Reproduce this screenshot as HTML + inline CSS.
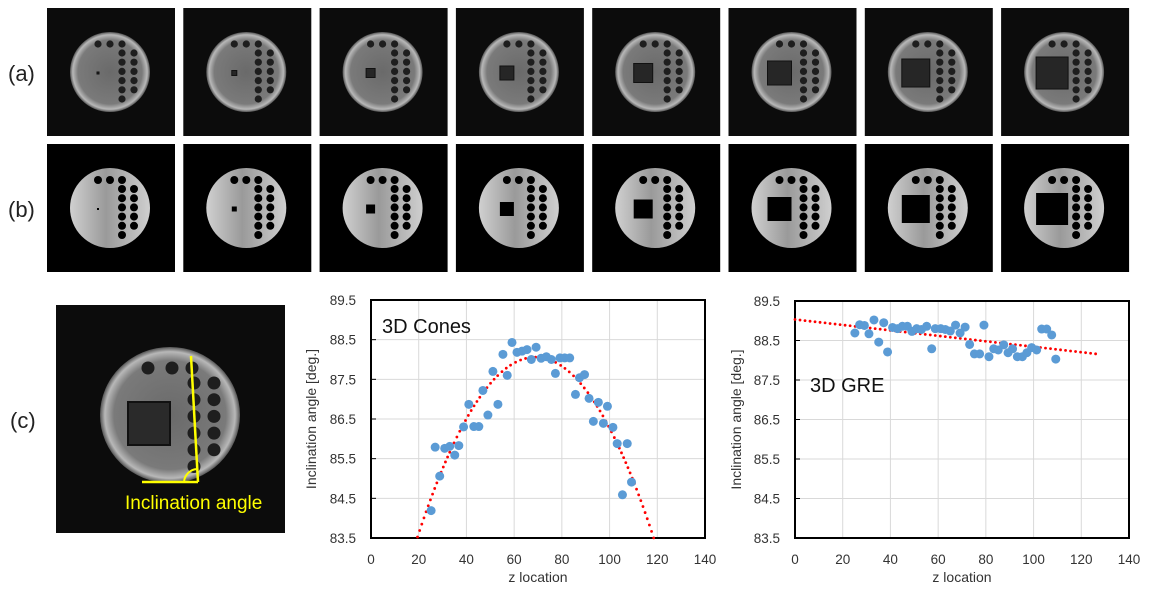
<!DOCTYPE html>
<html><head><meta charset="utf-8">
<style>
html,body{margin:0;padding:0;background:#fff;}
svg{display:block;font-family:"Liberation Sans","DejaVu Sans",sans-serif;}
</style></head>
<body>
<svg id="fig" width="1150" height="590" viewBox="0 0 1150 590" xmlns="http://www.w3.org/2000/svg">
<defs>
<radialGradient id="gA" cx="50%" cy="50%" r="50%">
<stop offset="0%" stop-color="#6a6a6a"/><stop offset="80%" stop-color="#7a7a7a"/><stop offset="93%" stop-color="#b8b8b8"/><stop offset="100%" stop-color="#555"/>
</radialGradient>
<linearGradient id="gB" x1="0" y1="0" x2="1" y2="0">
<stop offset="0%" stop-color="#d0d0d0"/><stop offset="45%" stop-color="#9a9a9a"/><stop offset="100%" stop-color="#cfcfcf"/>
</linearGradient>
</defs>
<g id="images"></g>
<g id="chart1"></g>
<g id="chart2"></g>
</svg>
<script>
// ---- chart data ----
const conesZ = [25.2,26.9,28.8,30.9,33.0,35.1,36.8,38.8,41.0,43.1,45.2,46.9,49.0,51.1,53.2,55.3,57.1,59.1,61.2,63.3,65.4,67.2,69.2,71.3,73.5,75.6,77.3,79.2,81.2,83.3,85.7,87.4,89.5,91.4,93.2,95.3,97.4,99.1,101.4,103.2,105.4,107.4,109.2];
const conesAngle = [84.19,85.79,85.06,85.76,85.81,85.59,85.83,86.30,86.87,86.31,86.31,87.22,86.60,87.70,86.87,88.13,87.60,88.43,88.18,88.21,88.25,88.00,88.31,88.03,88.07,88.00,87.65,88.04,88.04,88.04,87.12,87.54,87.62,87.02,86.44,86.92,86.39,86.82,86.29,85.88,84.59,85.88,84.91];
const greZ = [25.1,27.1,29.1,31.0,33.1,35.1,37.2,38.8,40.9,43.0,45.0,47.1,49.0,51.0,53.0,55.2,57.3,58.8,61.1,63.0,65.1,67.3,69.2,71.3,73.2,75.2,77.4,79.2,81.3,83.3,85.2,87.5,89.3,91.2,93.2,95.3,97.2,99.2,101.3,103.4,105.5,107.6,109.3];
const greAngle = [88.69,88.90,88.88,88.67,89.02,88.46,88.95,88.21,88.83,88.80,88.86,88.86,88.73,88.80,88.78,88.86,88.29,88.80,88.80,88.78,88.74,88.89,88.69,88.84,88.40,88.16,88.16,88.89,88.09,88.29,88.26,88.39,88.19,88.29,88.09,88.09,88.19,88.32,88.26,88.79,88.79,88.64,88.03];
const xTicks = [0,20,40,60,80,100,120,140];
const yTicks = [83.5,84.5,85.5,86.5,87.5,88.5,89.5];
const squareSizes = [2,5,9,14,19,24,28,32];

const NS="http://www.w3.org/2000/svg";
function mk(tag,attrs,parent,text){const e=document.createElementNS(NS,tag);for(const k in attrs)e.setAttribute(k,attrs[k]);if(text!==undefined)e.textContent=text;parent.appendChild(e);return e;}

// ---- images ----
const imgs=document.getElementById('images');
function phantom(g,x0,y0,sq,type){
  const cx=x0+63, cy=y0+64, r=40;
  mk('circle',{cx:cx,cy:cy,r:r,fill:type==='a'?'url(#gA)':'url(#gB)'},g);
  const hf = type==='a' ? '#1e1e1e' : '#000';
  const hr = type==='a' ? 3.6 : 4;
  [51,63,75].forEach(hx=>mk('circle',{cx:x0+hx,cy:y0+36,r:hr,fill:hf},g));
  for(let i=0;i<6;i++) mk('circle',{cx:x0+75,cy:y0+45+i*9.2,r:hr,fill:hf},g);
  for(let i=0;i<5;i++) mk('circle',{cx:x0+87,cy:y0+45+i*9.2,r:hr,fill:hf},g);
  if(sq>0) mk('rect',{x:x0+51-sq/2,y:y0+65-sq/2,width:sq,height:sq,fill:type==='a'?'#262626':'#000',stroke:type==='a'?'#111':'none','stroke-width':1},g);
}
for(let i=0;i<8;i++){
  const x0=47+i*136.3;
  const ga=mk('g',{},imgs);
  
  
  mk('rect',{x:x0,y:8,width:128,height:128,fill:'#0c0c0c'},ga);
  phantom(ga,x0,8,squareSizes[i],'a');
  const gb=mk('g',{},imgs);
  
  
  mk('rect',{x:x0,y:144,width:128,height:128,fill:'#000'},gb);
  phantom(gb,x0,144,squareSizes[i],'b');
}
const la=mk('text',{x:8,y:81,'font-size':22,fill:'#222'},imgs,'(a)');  
const lb=mk('text',{x:8,y:217,'font-size':22,fill:'#222'},imgs,'(b)');  
const lc=mk('text',{x:10,y:428,'font-size':22,fill:'#222'},imgs,'(c)');  
// big image (c)
const gc=mk('g',{},imgs);


(function(){
  mk('rect',{x:56,y:305,width:229,height:228,fill:'#0c0c0c'},gc);
  mk('ellipse',{cx:170,cy:415,rx:70,ry:68,fill:'url(#gA)'},gc);
  mk('rect',{x:128,y:402,width:42,height:43,fill:'#2a2a2a',stroke:'#111','stroke-width':2},gc);
  [148,172,192].forEach(hx=>mk('circle',{cx:hx,cy:368,r:6.5,fill:'#1e1e1e'},gc));
  for(let i=0;i<6;i++) mk('circle',{cx:194,cy:383+i*16.7,r:6.5,fill:'#1e1e1e'},gc);
  for(let i=0;i<5;i++) mk('circle',{cx:214,cy:383+i*16.7,r:6.5,fill:'#1e1e1e'},gc);
  mk('line',{x1:191,y1:356,x2:198,y2:482,stroke:'#ffff00','stroke-width':2.5},gc);
  mk('line',{x1:142,y1:482,x2:198,y2:482,stroke:'#ffff00','stroke-width':2.5},gc);
  mk('path',{d:'M184 482 A14 14 0 0 1 197 469',fill:'none',stroke:'#ffff00','stroke-width':2},gc);
  const t=mk('text',{x:125,y:509,'font-size':19,fill:'#ffff00'},gc,'Inclination angle');
  
  
})();

// ---- charts ----
function chart(gid,L,R,T,B,xs,ys,fit,title,tx,ty,yTitleX){
  const g=document.getElementById(gid);
  
  
  const X=v=>L+(v-xTicks[0])/(xTicks[xTicks.length-1]-xTicks[0])*(R-L);
  const Y=v=>B-(v-yTicks[0])/(yTicks[yTicks.length-1]-yTicks[0])*(B-T);
  xTicks.forEach(v=>{
    if(v>0&&v<140){const gl=mk('line',{x1:X(v),y1:T,x2:X(v),y2:B,stroke:'#d9d9d9','stroke-width':1},g);
    }
    const tl=mk('text',{x:X(v),y:B+26,'font-size':13.5,fill:'#333','text-anchor':'middle'},g,String(v));
    
  });
  yTicks.forEach(v=>{
    if(v>yTicks[0]&&v<yTicks[yTicks.length-1]){const gl=mk('line',{x1:L,y1:Y(v),x2:R,y2:Y(v),stroke:'#d9d9d9','stroke-width':1},g);
    
    mk('line',{x1:L,y1:Y(v),x2:L+5,y2:Y(v),stroke:'#000','stroke-width':1},g);}
    const tl=mk('text',{x:L-15,y:Y(v)+5,'font-size':13.5,fill:'#333','text-anchor':'end'},g,v.toFixed(1));
    
  });
  const fr=mk('rect',{x:L,y:T,width:R-L,height:B-T,fill:'none',stroke:'#000','stroke-width':2},g);
  
  const tg=mk('g',{},g);
  
  
  let last=null;
  for(let x=fit.x0;x<=fit.x1;x+=0.3){
    const y=fit.f(x); if(y<yTicks[0]||y>yTicks[yTicks.length-1]) continue;
    if(last){const dx=X(x)-last[0],dy=Y(y)-last[1]; if(Math.hypot(dx,dy)<5) continue;}
    last=[X(x),Y(y)];
    mk('circle',{cx:X(x),cy:Y(y),r:1.4,fill:'#ff0000'},tg);
  }
  xs.forEach((v,i)=>{
    const c=mk('circle',{cx:X(v),cy:Y(ys[i]),r:4.5,fill:'#5b9bd5'},g);
    
    
  });
  const tt=mk('text',{x:tx,y:ty,'font-size':20,fill:'#111'},g,title);
  
  const xt=mk('text',{x:(L+R)/2,y:B+44,'font-size':14,fill:'#333','text-anchor':'middle'},g,'z location');
  
  const yt=mk('text',{x:yTitleX,y:(T+B)/2,'font-size':14,fill:'#333','text-anchor':'middle',transform:`rotate(-90 ${yTitleX} ${(T+B)/2})`},g,'Inclination angle [deg.]');
  
}
function polyfit(xs,ys,deg){
  const n=deg+1;const A=[];for(let i=0;i<n;i++){A.push(new Array(n+1).fill(0));}
  xs.forEach((x,k)=>{for(let i=0;i<n;i++){for(let j=0;j<n;j++)A[i][j]+=Math.pow(x,i+j);A[i][n]+=ys[k]*Math.pow(x,i);}});
  for(let i=0;i<n;i++){let p=i;for(let r=i+1;r<n;r++)if(Math.abs(A[r][i])>Math.abs(A[p][i]))p=r;[A[i],A[p]]=[A[p],A[i]];
    for(let r=0;r<n;r++){if(r===i)continue;const f=A[r][i]/A[i][i];for(let c=i;c<=n;c++)A[r][c]-=f*A[i][c];}}
  const co=[];for(let i=0;i<n;i++)co.push(A[i][n]/A[i][i]);
  return x=>co.reduce((s,c,i)=>s+c*Math.pow(x,i),0);
}
chart('chart1',371,705,300,538,conesZ,conesAngle,{x0:15,x1:125,f:polyfit(conesZ,conesAngle,2)},'3D Cones',382,333,316);
chart('chart2',795,1129,301,538,greZ,greAngle,{x0:0,x1:128,f:polyfit(greZ,greAngle,1)},'3D GRE',810,392,741);
</script>
</body></html>
